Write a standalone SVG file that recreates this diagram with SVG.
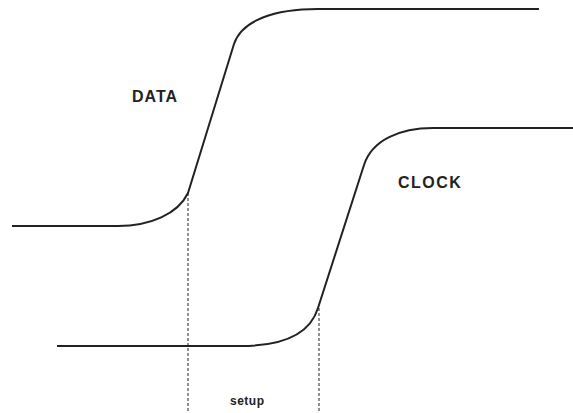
<svg xmlns="http://www.w3.org/2000/svg" width="573" height="413" viewBox="0 0 573 413">
<style>
.sig{fill:none;stroke:#222;stroke-width:2;stroke-linejoin:round}
.guide{fill:none;stroke:#222;stroke-width:1;stroke-dasharray:3 2}
.lbl{font-family:"Liberation Sans",Arial,sans-serif;font-weight:bold;fill:#222}
</style>
<rect width="573" height="413" fill="#fff"/>
<g id="connectors">
<line class="guide" x1="188" y1="193" x2="188" y2="413"/>
<line class="guide" x1="319" y1="308" x2="319" y2="413"/>
</g>
<g id="data">
<path class="sig" d="M12,226 H118 C150,226 178,214 188,193 L234,44 C242,20 275,9 318,9 H539"/>
<text class="lbl" x="132" y="102" font-size="16" letter-spacing="1">DATA</text>
</g>
<g id="clock">
<path class="sig" d="M57,346 H241 C282,346 310,334 318,308 L364,165 C372,140 400,128 433,128 H573"/>
<text class="lbl" x="398" y="188" font-size="16" letter-spacing="1.5">CLOCK</text>
</g>
<g id="setup">
<text class="lbl" x="230" y="405" font-size="12" letter-spacing="0.5">setup</text>
</g>
</svg>
